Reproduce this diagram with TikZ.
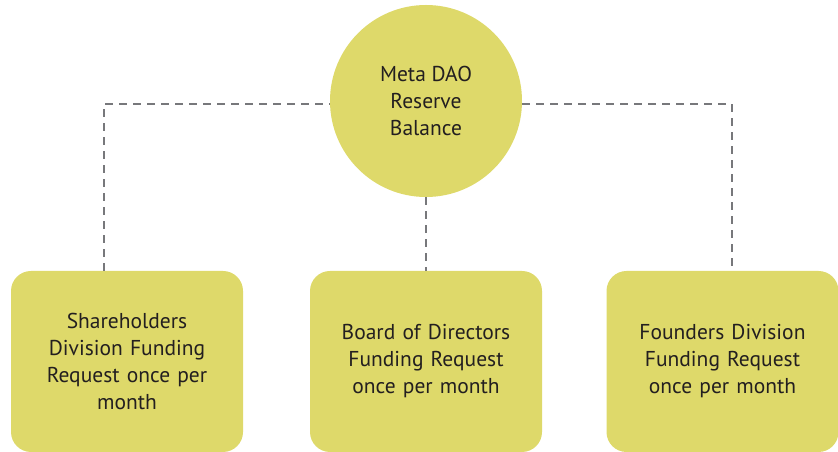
\documentclass[tikz,border=0pt]{standalone}
\usepackage{fontspec}
\setmainfont{PT Sans}
\begin{document}
\begin{tikzpicture}[x=1pt,y=1pt,
  fillc/.style={fill={rgb,255:red,222;green,217;blue,106}, draw=none},
  lbl/.style={text={rgb,255:red,35;green,31;blue,32}, font=\fontsize{21.5}{27}\selectfont, align=center},
  box/.style={fillc, lbl, rounded corners=20pt, minimum width=232pt, minimum height=181pt, inner sep=0pt, text width=200pt},
  disc/.style={circle, fillc, lbl, minimum size=192pt, inner sep=0pt},
  link/.style={draw={rgb,255:red,119;green,120;blue,123}, line width=2.4pt, dash pattern=on 8pt off 6pt}]
\useasboundingbox (0,0) rectangle (838,452);
% corner points of the dashed bus
\coordinate (lc) at (104,348);
\coordinate (rc) at (732,348);
% shapes and texts
\node[disc] (dao) at (426,351) {Meta DAO\\Reserve\\Balance};
\node[box] (sh) at (127,90.5) {Shareholders\\Division Funding\\Request once per\\month};
\node[box] (bd) at (426,90.5) {Board of Directors\\Funding Request\\once per month};
\node[box] (fd) at (722.5,90.5) {Founders Division\\Funding Request\\once per month};
% dashed links between the reserve and the three divisions
\path[link] (sh.north -| lc) -- (lc) -- (lc -| dao.west);
\path[link] (rc -| dao.east) -- (rc) -- (fd.north -| rc);
\path[link] (dao.south) -- (bd.north);
\end{tikzpicture}
\end{document}
